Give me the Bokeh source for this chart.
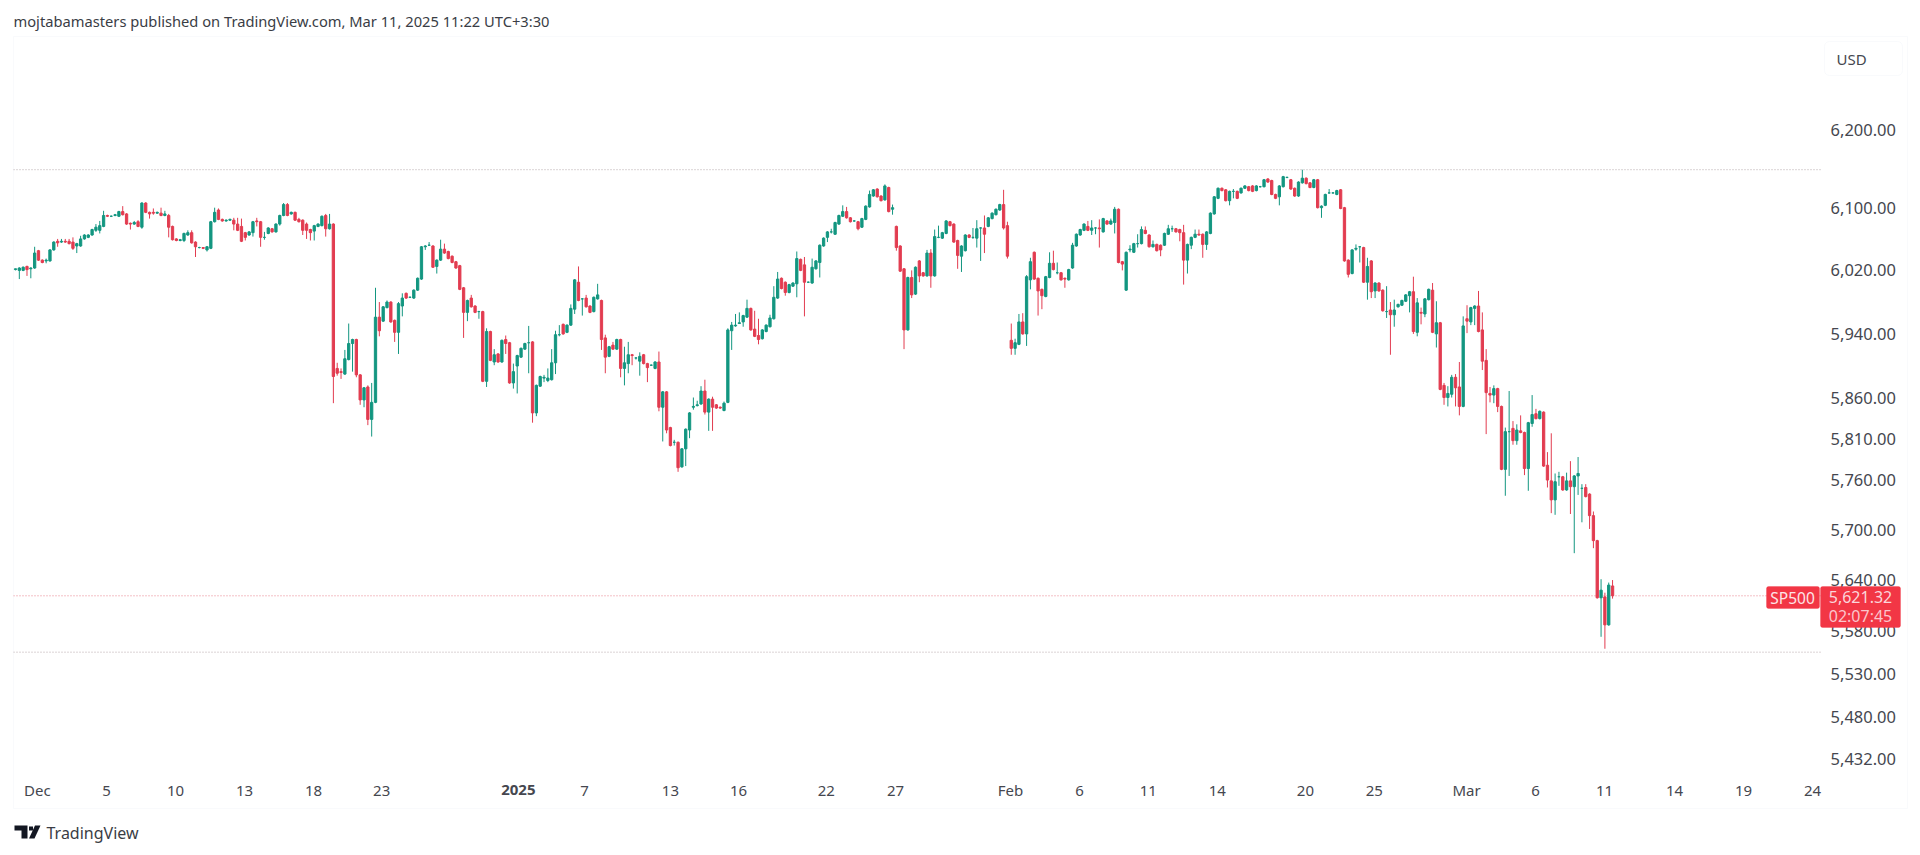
from bokeh.plotting import figure
from bokeh.models import (ColumnDataSource, Range1d, FixedTicker, NumeralTickFormatter,
                          Label, BoxAnnotation, PolyAnnotation)
from bokeh.embed import file_html
from bokeh.resources import INLINE

open_ = [
 6021,6020,6020,6025,6022,6023,6045,6033,6032,6032,6046,6057,6056,6057,6057,6056,6051,6051,6060,6062,
 6065,6071,6071,6076,6090,6089,6090,6089,6095,6092,6080,6079,6082,6075,6106,6094,6094,6093,6093,6090,
 6090,6076,6060,6058,6058,6065,6068,6056,6049,6049,6046,6048,6082,6097,6085,6083,6084,6084,6079,6076,
 6068,6065,6068,6083,6082,6062,6067,6073,6069,6079,6090,6104,6092,6094,6085,6084,6079,6072,6070,6076,
 6077,6090,6073,6079,
 5897,5893,5890,5908,5928,5933,5889,5858,5874,5834,5855,5961,5956,5973,5980,5957,5942,5975,5991,5986,
 5985,5995,6009,6050,6052,6051,6025,6033,6047,6044,6038,6031,6026,5998,5967,5985,5975,5968,5968,5881,
 5943,5905,5915,5905,5933,5929,5879,5900,5911,5921,5929,5930,5842,5875,5885,5882,5883,5904,5939,5952,
 5942,5951,5971,6005,5984,5985,5975,5968,5984,5982,5935,5912,5926,5921,5933,5897,5903,5914,5910,5906,
 5914,5903,5901,5897,5905,5849,5868,5824,5806,5806,5776,5798,5821,5849,5851,
 5853,5869,5843,5859,5852,5849,5845,5855,
 5944,5950,5953,5955,5961,5972,5946,5938,5934,5943,5949,5959,5985,6010,6005,5992,6000,6003,6034,6027,
 6005,6004,6022,6030,6051,6062,6069,6066,6079,6089,6095,6087,6083,6082,6075,6085,6101,6115,6124,6115,
 6110,6126,6098,6076,6051,6022,5945,6011,5990,6032,6017,6013,6042,6013,6062,6061,6067,6082,6079,6058,
 6038,6045,6065,6062,6061,6074,6074,6076,6086,6091,6097,6104,6077,5932,5922,5927,
 5955,5940,6008,6043,6010,5996,5987,6011,6029,6017,6017,6010,6008,6023,6051,6065,6071,6076,6071,6074,
 6074,6069,6083,6079,6081,6098,6031,5995,6046,6043,6054,6054,6071,6065,6050,6053,6052,6052,6066,6073,
 6073,6072,6068,6033,6052,6062,6066,6066,6053,6067,6092,6112,6125,6123,6109,6121,6121,6119,6125,6127,
 6128,6122,6127,6127,6137,6135,6117,6114,6127,6139,6136,6125,6115,6132,6138,6132,6126,6136,6100,6103,
 6119,6119,6117,6123,6100,6033,6016,6047,6050,6049,6005,6032,5994,6004,5995,5968,5970,5964,5974,
 5976,5981,5988,5993,5942,5967,5965,5983,5995,5940,5954,5876,5861,5865,5886,5874,5850,5959,5955,5972,
 5975,5945,5907,5866,5864,5872,5850,5773,5819,5823,5808,5820,5818,5774,5829,5841,5835,5843,5778,5759,
 5736,5764,5764,5748,5759,5752,5765,5750,5751,5743,5717,5687,5619,5620,5587,5633,
]
high = [
 6022,6024,6025,6026,6024,6050,6046,6034,6035,6047,6057,6060,6060,6060,6060,6062,6055,6064,6066,6066,
 6073,6079,6083,6096,6091,6090,6092,6096,6102,6093,6081,6083,6084,6107,6107,6095,6099,6095,6100,6096,
 6092,6077,6061,6060,6068,6071,6071,6057,6050,6049,6051,6083,6100,6099,6086,6085,6086,6087,6087,6086,
 6069,6070,6083,6087,6083,6069,6075,6074,6080,6091,6106,6106,6095,6095,6087,6085,6081,6073,6078,6080,
 6090,6092,6092,6080,
 5904,5897,5920,5953,5934,5934,5890,5874,5876,5879,5998,5980,5975,5982,5981,5958,5980,5991,5992,5987,
 5996,6011,6051,6052,6056,6052,6034,6059,6054,6045,6039,6032,6027,5999,5983,5989,5976,5969,5969,5947,
 5944,5921,5916,5933,5938,5930,5903,5914,5923,5929,5950,5931,5877,5888,5889,5897,5921,5944,5951,5953,
 5952,5977,6009,6025,5985,5989,5976,5987,6003,5983,5939,5925,5930,5934,5934,5924,5930,5915,5911,5917,
 5915,5904,5902,5906,5918,5869,5869,5825,5809,5807,5799,5823,5843,5861,5857,
 5875,5883,5860,5862,5853,5850,5856,5947,
 5955,5965,5967,5964,5983,5973,5969,5959,5946,5952,5964,6000,6018,6011,6006,6003,6005,6044,6035,6037,
 6006,6035,6033,6053,6062,6070,6073,6082,6091,6103,6101,6088,6084,6083,6087,6103,6122,6124,6125,6116,
 6130,6127,6104,6077,6052,6023,6012,6020,6025,6033,6018,6046,6047,6072,6077,6069,6084,6083,6080,6059,
 6052,6066,6066,6074,6084,6075,6090,6088,6094,6099,6105,6123,6082,5953,5934,5965,
 5966,6014,6036,6044,6011,5997,6013,6043,6045,6030,6018,6011,6022,6055,6067,6073,6080,6083,6084,6075,
 6085,6087,6084,6086,6101,6099,6032,6044,6052,6055,6066,6076,6076,6066,6058,6054,6053,6068,6078,6077,
 6074,6073,6078,6054,6063,6072,6072,6067,6070,6094,6115,6126,6126,6124,6122,6124,6122,6126,6129,6128,
 6129,6129,6128,6137,6138,6136,6118,6129,6141,6140,6137,6126,6134,6149,6139,6133,6137,6137,6103,6118,
 6124,6120,6123,6124,6101,6034,6047,6053,6051,6050,6036,6033,6005,6005,5996,6000,5980,5983,5978,
 5983,5990,5994,6012,5985,5973,5985,5997,6004,5981,5955,5879,5875,5889,5890,5905,5962,5976,5974,5976,
 5994,5967,5921,5874,5876,5873,5851,5824,5869,5832,5828,5839,5819,5831,5864,5847,5845,5844,5794,5817,
 5768,5770,5765,5769,5783,5766,5788,5755,5755,5744,5722,5688,5641,5625,5637,5640,
]
low = [
 6020,6009,6019,6013,6010,6022,6032,6029,6029,6031,6045,6050,6055,6055,6053,6046,6042,6050,6059,6061,
 6064,6069,6067,6075,6088,6088,6089,6088,6090,6078,6072,6078,6075,6073,6093,6086,6091,6092,6089,6089,
 6062,6058,6057,6057,6056,6064,6054,6037,6048,6047,6044,6047,6081,6084,6082,6082,6083,6071,6070,6056,
 6058,6064,6063,6076,6050,6059,6066,6068,6068,6077,6089,6089,6091,6083,6081,6065,6060,6058,6058,6075,
 6076,6063,6072,5854,
 5888,5884,5889,5907,5893,5886,5852,5849,5827,5813,5854,5937,5955,5972,5954,5930,5915,5962,5984,5985,
 5984,5994,6008,6046,6051,6023,6016,6032,6041,6034,6029,6022,5995,5935,5956,5973,5966,5959,5880,5874,
 5906,5901,5904,5904,5915,5878,5872,5866,5910,5920,5891,5830,5838,5874,5880,5880,5882,5890,5937,5939,
 5941,5950,5965,5981,5963,5973,5966,5967,5983,5920,5891,5911,5920,5920,5886,5876,5891,5901,5908,5888,
 5902,5880,5900,5896,5844,5807,5817,5801,5802,5770,5775,5777,5811,5846,5850,
 5852,5840,5820,5820,5847,5847,5844,5854,
 5920,5949,5953,5949,5960,5944,5936,5927,5933,5942,5948,5958,5984,5996,5988,5991,5999,5986,6019,5962,
 6004,6003,6021,6011,6050,6056,6067,6065,6078,6088,6086,6081,6082,6071,6074,6084,6100,6114,6113,6108,
 6109,6094,6091,6045,6018,5921,5944,5985,5989,6005,6012,6012,5998,6012,6061,6060,6066,6076,6055,6022,
 6018,6044,6061,6060,6049,6032,6042,6075,6085,6090,6096,6072,6035,5914,5914,5926,
 5939,5925,5996,6008,5963,5971,5986,6010,6020,6015,6007,5998,6007,6022,6050,6064,6070,6070,6065,6066,
 6049,6068,6078,6078,6067,6029,6020,5994,6043,6042,6049,6053,6066,6049,6049,6044,6038,6051,6065,6069,
 6068,6057,6002,6016,6047,6061,6064,6036,6046,6066,6091,6111,6121,6108,6103,6112,6111,6118,6124,6121,
 6120,6121,6126,6126,6132,6116,6111,6103,6126,6138,6123,6114,6114,6131,6130,6125,6125,6099,6087,6102,
 6118,6118,6116,6098,6031,6011,6015,6045,6030,6004,5983,5985,5985,5993,5968,5960,5914,5949,5973,
 5975,5980,5967,5940,5937,5952,5961,5982,5941,5923,5870,5852,5850,5861,5850,5839,5849,5941,5951,5951,
 5942,5895,5816,5855,5854,5843,5772,5741,5765,5803,5803,5817,5766,5747,5825,5834,5834,5776,5751,5720,
 5718,5753,5747,5747,5719,5672,5742,5709,5739,5701,5678,5618,5573,5559,5586,5618,
]
close = [
 6022,6023,6024,6021,6023,6042,6033,6030,6033,6046,6056,6055,6057,6056,6054,6048,6054,6060,6065,6065,
 6072,6075,6077,6090,6089,6089,6091,6095,6091,6079,6079,6081,6076,6106,6094,6092,6093,6094,6090,6092,
 6075,6059,6058,6059,6067,6068,6055,6050,6049,6048,6050,6082,6094,6085,6083,6084,6085,6079,6071,6057,
 6062,6069,6082,6082,6062,6062,6074,6069,6079,6090,6104,6090,6094,6084,6082,6071,6071,6068,6077,6079,
 6089,6073,6079,5887,
 5891,5892,5909,5928,5933,5889,5858,5873,5834,5855,5961,5944,5974,5980,5955,5942,5978,5985,5985,5986,
 5995,6010,6050,6051,6052,6024,6033,6047,6042,6035,6030,6023,5996,5967,5982,5974,5967,5968,5881,5943,
 5907,5914,5905,5932,5928,5879,5893,5913,5922,5928,5929,5842,5876,5887,5886,5885,5904,5939,5939,5940,
 5951,5972,6008,5982,5984,5974,5967,5986,5989,5933,5911,5924,5921,5933,5897,5904,5914,5913,5910,5912,
 5903,5898,5901,5905,5849,5868,5821,5802,5806,5775,5798,5822,5842,5850,5852,
 5869,5843,5859,5849,5848,5848,5854,5945,
 5951,5951,5954,5963,5972,5945,5937,5933,5945,5951,5960,5986,6009,5997,5992,6002,6004,6035,6020,6005,
 6005,6024,6032,6052,6061,6069,6069,6081,6090,6095,6087,6082,6083,6073,6086,6102,6117,6123,6114,6109,
 6128,6095,6100,6049,6019,5945,6011,5989,6024,6013,6013,6042,6013,6063,6062,6068,6083,6077,6056,6039,
 6051,6065,6062,6062,6073,6074,6066,6087,6093,6098,6104,6074,6038,5922,5929,5955,
 5940,6012,6031,6009,5994,5988,6012,6029,6021,6017,6008,6009,6021,6052,6066,6072,6079,6071,6074,6074,
 6073,6086,6079,6083,6098,6030,6028,6043,6047,6054,6054,6072,6067,6050,6053,6045,6046,6067,6073,6073,
 6069,6068,6033,6053,6062,6066,6065,6053,6069,6093,6114,6125,6122,6109,6121,6121,6112,6125,6128,6122,
 6121,6128,6127,6136,6133,6117,6112,6128,6140,6139,6124,6115,6133,6138,6131,6126,6136,6100,6102,6117,
 6119,6119,6122,6099,6032,6015,6046,6048,6050,6005,6025,5993,6004,5994,5969,5968,5964,5970,5977,
 5982,5989,5993,5943,5979,5966,5984,5996,5942,5954,5871,5861,5866,5886,5873,5850,5950,5956,5973,5975,
 5943,5906,5867,5864,5872,5850,5773,5819,5819,5808,5821,5818,5774,5830,5840,5835,5844,5777,5760,5736,
 5758,5764,5748,5759,5752,5765,5768,5750,5740,5717,5687,5619,5628,5587,5634,5621.32,
]
price_ticks = [5432, 5480, 5530, 5580, 5640, 5700, 5760, 5810, 5860, 5940, 6020, 6100, 6200]
time_ticks = [5.7, 23.8, 41.8, 59.8, 77.8, 95.6, 148.6, 171, 188.8, 211.7, 229.8, 259.8, 277.8, 295.8,
              313.8, 336.8, 354.8, 378.9, 396.9, 414.9, 433.2, 451.2, 469.2]
time_labels = ["Dec", "5", "10", "13", "18", "23", "7", "13", "16", "22", "27", "Feb", "6", "11",
               "14", "20", "25", "Mar", "6", "11", "14", "19", "24"]
year_tick = 131.3
year_label = "2025"
level_high = 6149
level_low = 5555
last_price = 5621.32

RED = "#e23c50"
GREEN = "#139680"
TEXT = "#45474f"
FONT = "Noto Sans"
TAG = "#f23645"

n = len(close)
idx = list(range(n))
colors = [GREEN if c >= o else RED for o, c in zip(open_, close)]
src = ColumnDataSource(dict(x=idx, o=open_, h=high, l=low, c=close, color=colors))

# The plotting area fills the canvas, so that the header, footer and tags are not clipped.
X0, X1 = -0.52, 471.3      # pane left / right edge
Y_BOTTOM = 5418.3          # pane bottom edge
p = figure(width=1915, height=850, output_backend="svg", toolbar_location=None,
           x_range=Range1d(-3.916, 496.1), y_range=Range1d(5327.8, 6372),
           y_axis_type="log", y_axis_location="right",
           min_border_left=0, min_border_right=0, min_border_top=0, min_border_bottom=0)
p.grid.visible = False
p.outline_line_color = None
p.background_fill_color = "white"

xax, yax = p.xaxis[0], p.yaxis[0]
for ax in (xax, yax):
    ax.axis_line_color = None
    ax.major_tick_line_color = None
    ax.minor_tick_line_color = None
    ax.major_label_text_font = FONT
    ax.major_label_text_color = TEXT

yax.fixed_location = X1
yax.ticker = FixedTicker(ticks=price_ticks)
yax.formatter = NumeralTickFormatter(format="0,0.00")
yax.major_label_standoff = 4
yax.major_label_text_font_size = "16.5px"
xax.fixed_location = Y_BOTTOM
xax.ticker = FixedTicker(ticks=time_ticks)
xax.major_label_overrides = dict(zip(time_ticks, time_labels))
xax.major_label_standoff = 3
xax.major_label_text_font_size = "15px"

for level, col in ((level_high, "#b5a9ac"), (level_low, "#b5a6a9"), (last_price, "#e8808c")):
    p.line([X0, X1], [level, level], line_color=col, line_width=1, line_dash=[1, 2])

p.segment("x", "h", "x", "l", source=src, line_color="color", line_width=1)
p.vbar("x", width=0.6, top="o", bottom="c", source=src, fill_color="color", line_color="color", line_width=1)


def text(s, x, y, size="16px", color=TEXT, align="left", weight="normal", x_units="canvas"):
    p.add_layout(Label(x=x, y=y, x_units=x_units, y_units="canvas", text=s, text_font=FONT,
                       text_font_size=size, text_color=color, text_align=align,
                       text_baseline="middle", text_font_style=weight))


def box(left, right, top, bottom, fill=None, line="#eceff6", radius=0):
    p.add_layout(BoxAnnotation(left=left, right=right, top=top, bottom=bottom,
                               left_units="canvas", right_units="canvas",
                               top_units="canvas", bottom_units="canvas",
                               fill_color=fill or "white", fill_alpha=1 if fill else 0,
                               line_color=line, line_width=1, border_radius=radius))


# outer frame and currency box
box(13, 1907, 36, 808)
box(1824, 1902, 41, 75, radius=5)
text("USD", 1836, 58, size="15px")

# price tags
box(1766, 1819, 586, 608, fill=TAG, line=TAG, radius=2)
box(1820, 1900, 586, 627, fill=TAG, line=TAG, radius=2)
text("SP500", 1792, 597, size="15.5px", color="#fde4e7", align="center")
text("5,621.32", 1860, 596, color="#fbd5da", align="center")
text("02:07:45", 1860, 615, color="#fbc5cc", align="center")

# header, year label, footer
text("mojtabamasters published on TradingView.com, Mar 11, 2025 11:22 UTC+3:30", 13, 20, size="14.7px", color="#3a3d45")
text(year_label, year_tick, 789, size="15px", weight="bold", align="center", x_units="data")
text("TradingView", 46, 832, size="16px", color="#3a3d45")

# TradingView mark
for xs, ys in (([14, 27, 27, 21, 21, 14], [825, 825, 838, 838, 830, 830]),
               ([34.5, 40, 34, 28.5], [825, 825, 838, 838]),
               ([28.5, 32.5, 32.5, 28.5], [826, 826, 830, 830])):
    p.add_layout(PolyAnnotation(xs=xs, ys=ys, xs_units="canvas", ys_units="canvas",
                                fill_color="#131722", fill_alpha=1, line_color=None))

open("out.html", "w").write(file_html(p, INLINE))
